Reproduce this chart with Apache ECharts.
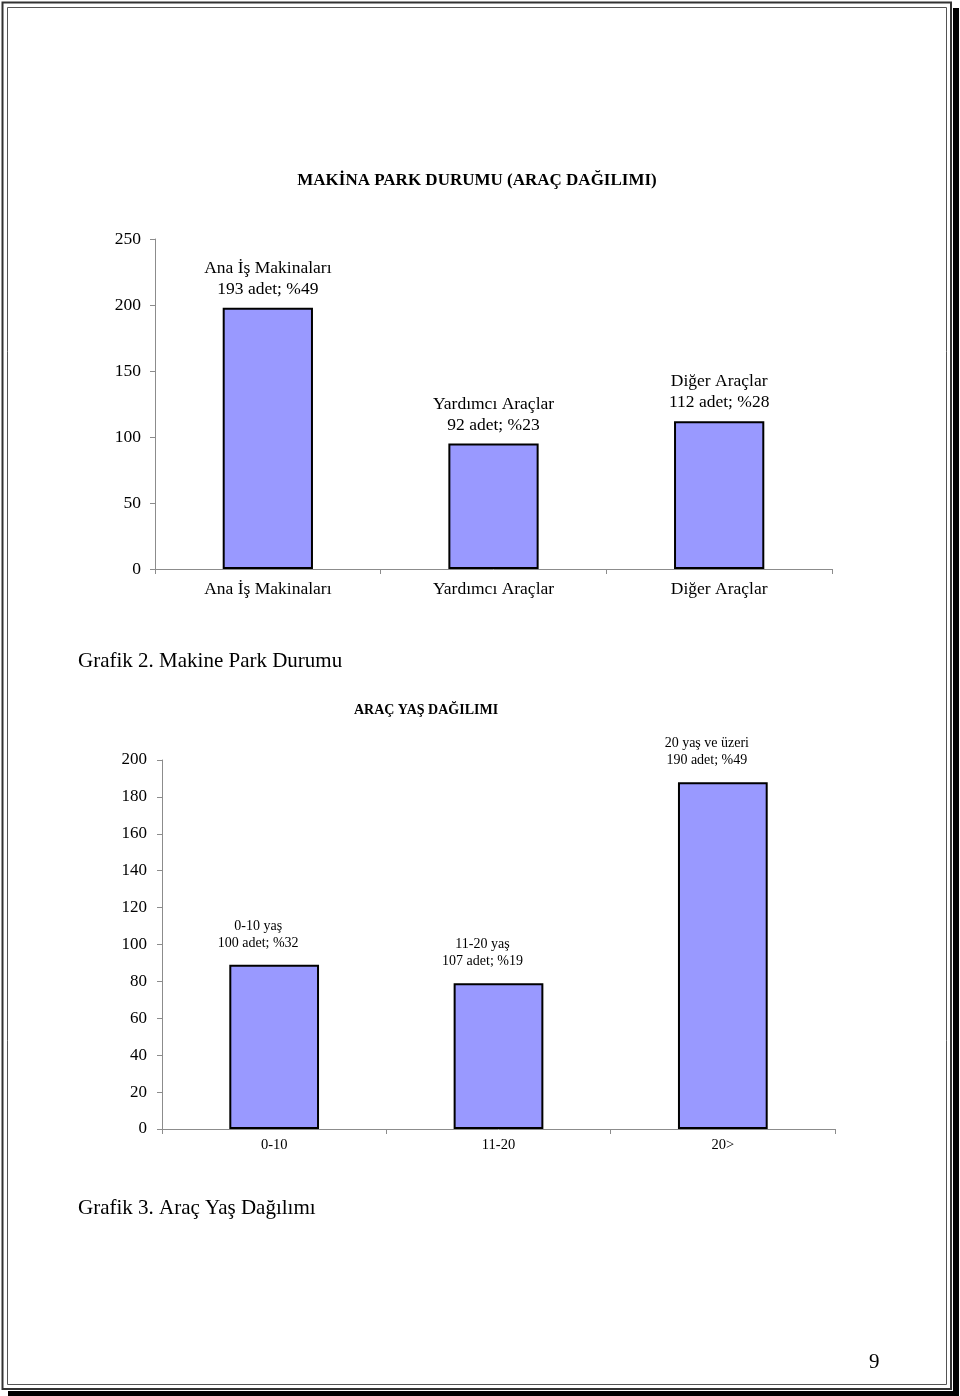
<!DOCTYPE html>
<html>
<head>
<meta charset="utf-8">
<script src="https://cdn.jsdelivr.net/npm/echarts@6/dist/echarts.min.js"></script>
<style>
html,body{margin:0;padding:0;background:#fff;}
#c{width:960px;height:1396px;}
</style>
</head>
<body>
<div id="c"></div>
<script>
// Chart 1: Makina park durumu
const parkCategories = ['Ana İş Makinaları', 'Yardımcı Araçlar', 'Diğer Araçlar'];
const parkValues = [198, 95, 112];
const parkLabelNames = ['Ana İş Makinaları', 'Yardımcı Araçlar', 'Diğer Araçlar'];
const parkLabelCounts = ['193 adet; %49', '92 adet; %23', '112 adet; %28'];
const parkTicks = [0, 50, 100, 150, 200, 250];

// Chart 2: Araç yaş dağılımı
const ageCategories = ['0-10', '11-20', '20>'];
const ageValues = [89, 79, 188];
const ageLabelNames = ['0-10 yaş', '11-20 yaş', '20 yaş ve üzeri'];
const ageLabelCounts = ['100 adet; %32', '107 adet; %19', '190 adet; %49'];
const ageTicks = [0, 20, 40, 60, 80, 100, 120, 140, 160, 180, 200];

const FONT = "'Liberation Serif', 'DejaVu Serif', serif";
const BAR = '#9999FF';
const AXIS = '#8c8c8c';

const chart = echarts.init(document.getElementById('c'), null, {renderer: 'canvas'});

function yAxis(gridIndex, ticks, fs, margin) {
  return {
    type: 'value', gridIndex: gridIndex,
    min: ticks[0], max: ticks[ticks.length - 1], interval: ticks[1] - ticks[0],
    axisLine: {show: true, lineStyle: {color: AXIS, width: 1}},
    axisTick: {show: true, length: 5, lineStyle: {color: AXIS}},
    splitLine: {show: false},
    axisLabel: {color: '#000', fontFamily: FONT, fontSize: fs, margin: margin}
  };
}
function xAxis(gridIndex, cats, fs, margin) {
  return {
    type: 'category', gridIndex: gridIndex, data: cats,
    axisLine: {show: true, lineStyle: {color: AXIS, width: 1}},
    axisTick: {show: true, length: 5, alignWithLabel: false, lineStyle: {color: AXIS}},
    axisLabel: {color: '#000', fontFamily: FONT, fontSize: fs, margin: margin}
  };
}

chart.setOption({
  animation: false,
  backgroundColor: '#fff',
  title: [
    {text: 'MAKİNA PARK DURUMU (ARAÇ DAĞILIMI)', left: 477, top: 172, textAlign: 'center', padding: 0,
     textStyle: {fontFamily: FONT, fontSize: 17, fontWeight: 'bold', color: '#000'}},
    {text: 'ARAÇ YAŞ DAĞILIMI', left: 426, top: 703, textAlign: 'center', padding: 0,
     textStyle: {fontFamily: FONT, fontSize: 14, fontWeight: 'bold', color: '#000'}}
  ],
  grid: [
    {left: 155, right: 128, top: 239, bottom: 1396 - 569, containLabel: false},
    {left: 162, right: 125, top: 760, bottom: 1396 - 1129, containLabel: false}
  ],
  xAxis: [xAxis(0, parkCategories, 17.5, 11), xAxis(1, ageCategories, 14.5, 9)],
  yAxis: [yAxis(0, parkTicks, 17.5, 14), yAxis(1, ageTicks, 17, 15)],
  series: [
    {
      type: 'bar', xAxisIndex: 0, yAxisIndex: 0, data: parkValues, barWidth: '40%',
      itemStyle: {color: BAR, borderColor: '#000', borderWidth: 2},
      label: {
        show: true, position: 'top', distance: 8,
        fontFamily: FONT, fontSize: 17.5, lineHeight: 21, color: '#000', align: 'center',
        formatter: p => parkLabelNames[p.dataIndex] + '\n' + parkLabelCounts[p.dataIndex]
      }
    },
    {
      type: 'bar', xAxisIndex: 1, yAxisIndex: 1, data: ageValues, barWidth: '40%',
      itemStyle: {color: BAR, borderColor: '#000', borderWidth: 2},
      label: {
        show: true, position: 'top', distance: 13, offset: [-16, 0],
        fontFamily: FONT, fontSize: 14, lineHeight: 17, color: '#000', align: 'center',
        formatter: p => ageLabelNames[p.dataIndex] + '\n' + ageLabelCounts[p.dataIndex]
      }
    }
  ],
  graphic: [
    // page frame
    {type: 'rect', shape: {x: 953, y: 8, width: 6, height: 1388}, style: {fill: '#000'}, silent: true},
    {type: 'rect', shape: {x: 8, y: 1391, width: 951, height: 5}, style: {fill: '#000'}, silent: true},
    {type: 'rect', shape: {x: 2.5, y: 2.5, width: 948.5, height: 1386.5}, style: {fill: 'none', stroke: '#333', lineWidth: 2}, silent: true},
    {type: 'rect', shape: {x: 7.5, y: 7.5, width: 939, height: 1377}, style: {fill: 'none', stroke: '#555', lineWidth: 1}, silent: true},
    // captions
    {type: 'text', left: 78, top: 651, style: {text: 'Grafik 2. Makine Park Durumu', font: "21px 'Liberation Serif'", fill: '#000'}},
    {type: 'text', left: 78, top: 1198, style: {text: 'Grafik 3. Araç Yaş Dağılımı', font: "21px 'Liberation Serif'", fill: '#000'}},
    {type: 'text', left: 869, top: 1352, style: {text: '9', font: "21px 'Liberation Serif'", fill: '#000'}}
  ]
});
</script>
</body>
</html>
